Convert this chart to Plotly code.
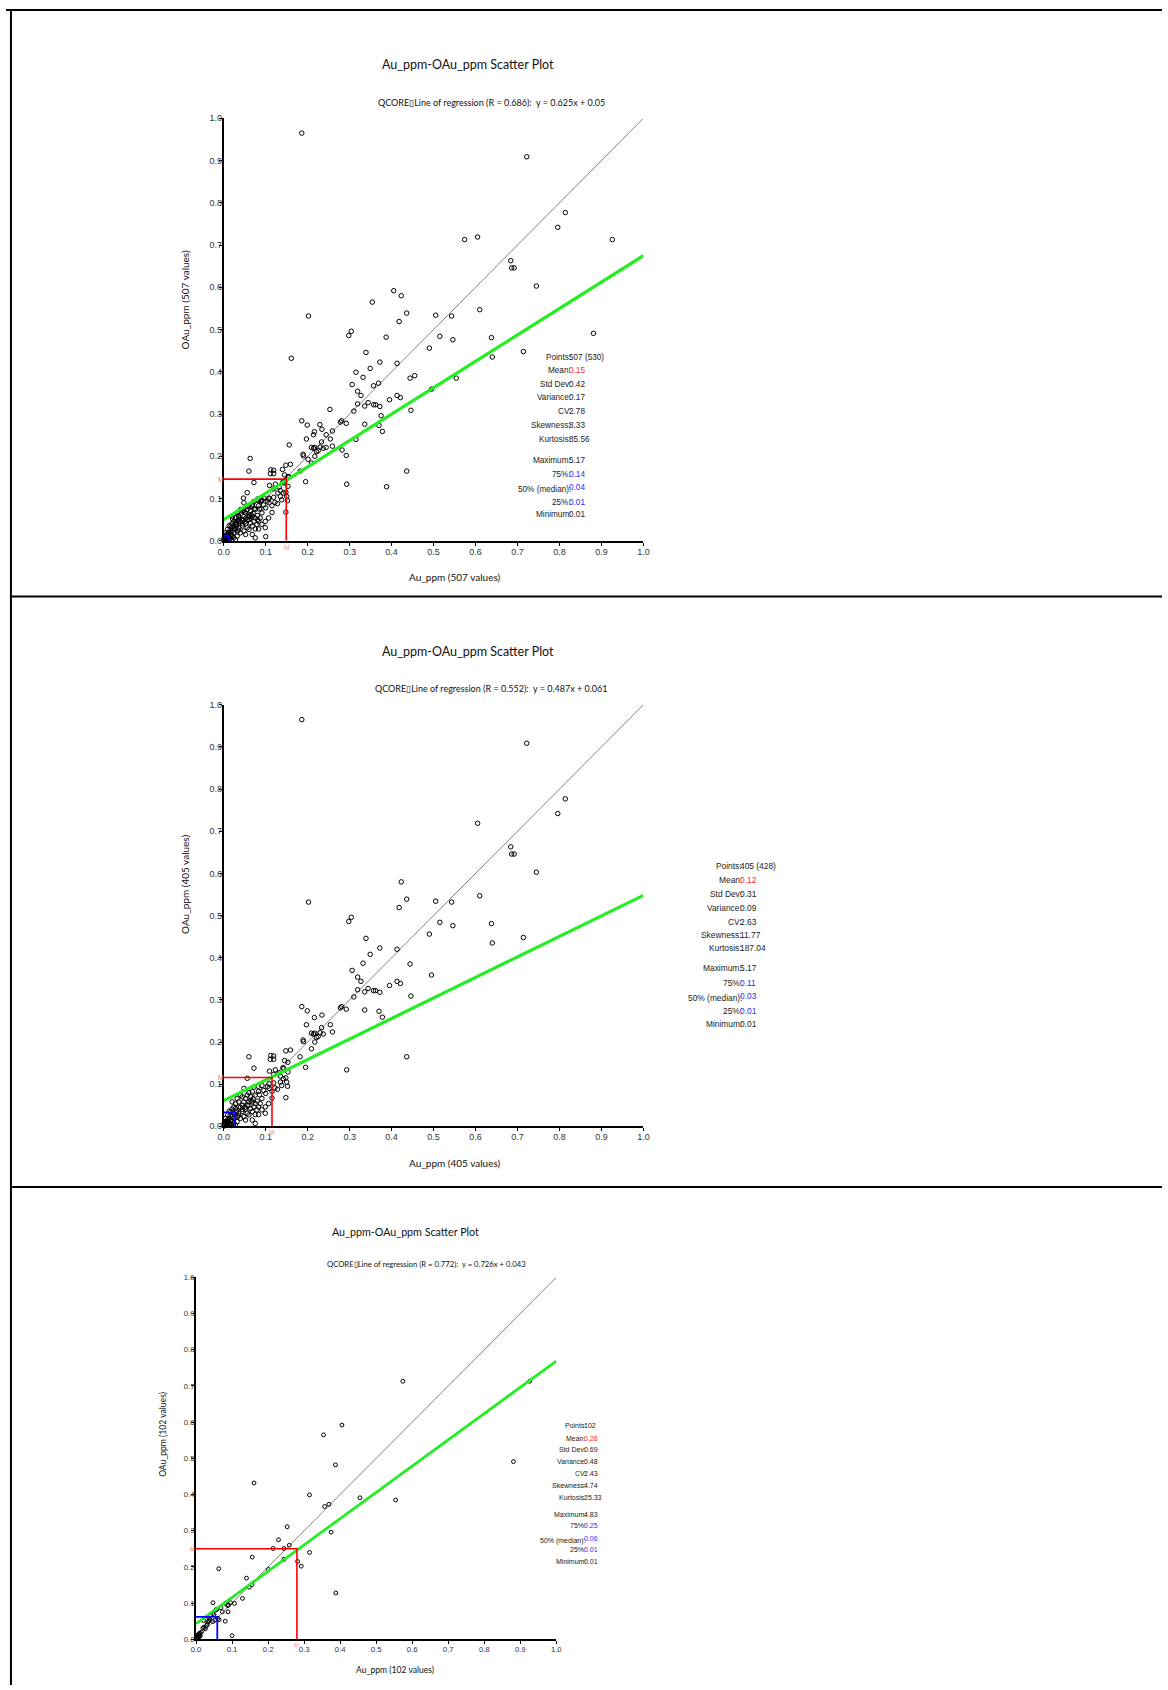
import plotly.graph_objects as go

W, H = 1168, 1690

# ---------------- DATA ----------------
# Subset shown in the middle panel (405 values) -- visible points inside [0,1]
set_b_points = [
    (0.186, 0.965), (0.722, 0.909), (0.814, 0.777), (0.796, 0.742), (0.605, 0.719),
    (0.684, 0.663), (0.686, 0.646), (0.692, 0.646), (0.745, 0.603), (0.423, 0.580),
    (0.436, 0.539), (0.202, 0.532), (0.505, 0.534), (0.543, 0.532), (0.610, 0.547),
    (0.418, 0.519), (0.304, 0.496), (0.298, 0.486), (0.515, 0.484), (0.546, 0.476),
    (0.638, 0.481), (0.490, 0.456), (0.640, 0.435), (0.714, 0.448), (0.339, 0.446),
    (0.372, 0.423), (0.413, 0.420), (0.349, 0.408), (0.444, 0.385), (0.332, 0.387),
    (0.495, 0.359), (0.306, 0.370), (0.319, 0.354), (0.327, 0.344), (0.344, 0.327),
    (0.357, 0.322), (0.395, 0.334), (0.413, 0.344), (0.421, 0.339), (0.446, 0.309),
    (0.370, 0.273), (0.436, 0.165), (0.293, 0.134),
    (0.319, 0.324), (0.336, 0.319), (0.362, 0.322), (0.372, 0.318), (0.310, 0.307),
    (0.278, 0.281), (0.281, 0.284), (0.292, 0.278), (0.336, 0.276), (0.378, 0.259),
    (0.186, 0.284), (0.199, 0.274), (0.234, 0.264), (0.216, 0.258), (0.233, 0.234),
    (0.254, 0.241), (0.197, 0.241), (0.259, 0.224), (0.209, 0.221), (0.214, 0.219),
    (0.217, 0.221), (0.230, 0.222), (0.237, 0.219), (0.225, 0.213), (0.221, 0.211),
    (0.189, 0.205), (0.190, 0.201), (0.217, 0.200), (0.209, 0.184), (0.148, 0.179),
    (0.159, 0.181), (0.182, 0.165), (0.060, 0.165), (0.112, 0.168), (0.119, 0.167),
    (0.111, 0.159), (0.119, 0.159), (0.145, 0.156), (0.153, 0.152), (0.195, 0.140),
    (0.141, 0.139), (0.143, 0.137), (0.072, 0.138), (0.109, 0.131), (0.123, 0.134),
    (0.132, 0.127), (0.153, 0.129), (0.119, 0.123), (0.056, 0.114), (0.135, 0.119),
    (0.142, 0.113), (0.148, 0.115), (0.150, 0.105), (0.135, 0.105), (0.108, 0.090),
    (0.122, 0.091), (0.152, 0.095),
    (0.108, 0.101), (0.119, 0.103), (0.091, 0.097), (0.082, 0.095), (0.072, 0.093),
    (0.048, 0.090), (0.083, 0.083), (0.060, 0.080), (0.115, 0.067), (0.148, 0.068),
    (0.075, 0.074), (0.068, 0.082), (0.060, 0.058), (0.072, 0.046), (0.079, 0.039),
    (0.075, 0.028), (0.083, 0.028), (0.064, 0.042), (0.056, 0.050), (0.052, 0.066),
    (0.044, 0.070), (0.040, 0.074), (0.036, 0.058), (0.028, 0.054), (0.032, 0.066),
    (0.024, 0.046), (0.020, 0.041), (0.017, 0.035), (0.013, 0.036), (0.009, 0.027),
    (0.005, 0.019), (0.003, 0.011), (0.002, 0.003), (0.009, 0.007), (0.017, 0.015),
    (0.024, 0.019), (0.028, 0.027), (0.036, 0.031), (0.044, 0.035), (0.052, 0.041),
    (0.060, 0.027), (0.048, 0.023), (0.040, 0.019), (0.032, 0.011), (0.024, 0.007),
    (0.019, 0.002), (0.013, 0.003), (0.052, 0.015), (0.068, 0.015), (0.075, 0.007),
    (0.091, 0.066), (0.087, 0.054), (0.099, 0.046), (0.107, 0.054),
    (0.020, 0.058), (0.028, 0.042), (0.036, 0.046), (0.044, 0.050), (0.048, 0.058),
    (0.056, 0.074), (0.064, 0.070), (0.068, 0.058), (0.075, 0.054), (0.083, 0.046),
    (0.091, 0.039), (0.099, 0.031), (0.068, 0.035), (0.056, 0.031), (0.032, 0.023),
    (0.020, 0.023), (0.013, 0.019), (0.005, 0.011), (0.009, 0.015), (0.017, 0.007),
    (0.028, 0.003), (0.001, 0.007), (0.002, 0.005), (0.004, 0.002), (0.006, 0.004),
    (0.003, 0.008), (0.008, 0.003), (0.001, 0.001), (0.005, 0.006), (0.007, 0.009),
    (0.010, 0.005), (0.012, 0.010),
    (0.040, 0.045), (0.045, 0.040), (0.030, 0.035), (0.035, 0.025), (0.025, 0.030),
    (0.015, 0.025), (0.020, 0.012), (0.011, 0.013), (0.050, 0.045), (0.060, 0.050),
    (0.065, 0.062), (0.070, 0.065), (0.080, 0.060), (0.085, 0.075), (0.095, 0.085),
    (0.100, 0.078), (0.104, 0.094), (0.115, 0.083), (0.128, 0.088), (0.138, 0.097),
]

# Subset shown in the bottom panel (102 values)
set_c_points = [
    (0.574, 0.713), (0.926, 0.713), (0.354, 0.565), (0.405, 0.592), (0.387, 0.482),
    (0.881, 0.491), (0.161, 0.432), (0.315, 0.399), (0.455, 0.391), (0.554, 0.385),
    (0.357, 0.367), (0.369, 0.373), (0.253, 0.311), (0.375, 0.296), (0.229, 0.275),
    (0.259, 0.260), (0.214, 0.251), (0.244, 0.251), (0.315, 0.240), (0.156, 0.227),
    (0.244, 0.221), (0.282, 0.215), (0.292, 0.202), (0.063, 0.195), (0.201, 0.193),
    (0.140, 0.169), (0.155, 0.151), (0.148, 0.144), (0.388, 0.128), (0.129, 0.113),
    (0.047, 0.101), (0.081, 0.099), (0.090, 0.095), (0.088, 0.093), (0.107, 0.099),
    (0.096, 0.101), (0.069, 0.087), (0.058, 0.083), (0.055, 0.081), (0.073, 0.076),
    (0.089, 0.076), (0.047, 0.071), (0.050, 0.068), (0.021, 0.052), (0.035, 0.060),
    (0.038, 0.055), (0.033, 0.048), (0.036, 0.051), (0.064, 0.054), (0.061, 0.058),
    (0.052, 0.053), (0.047, 0.049), (0.081, 0.050), (0.031, 0.042), (0.029, 0.038),
    (0.022, 0.033), (0.019, 0.031), (0.026, 0.029), (0.015, 0.020), (0.011, 0.017),
    (0.007, 0.014), (0.006, 0.010), (0.009, 0.016), (0.004, 0.008), (0.100, 0.010),
    (0.002, 0.003), (0.003, 0.005), (0.005, 0.004), (0.001, 0.002), (0.008, 0.006),
    (0.010, 0.012), (0.012, 0.009), (0.004, 0.010),
]

# Top panel shows all values (union of both subsets)
set_a_points = set_b_points + set_c_points
panel_points = [set_a_points, set_b_points, set_c_points]

counts = ["507", "405", "102"]
regression = [(0.686, 0.625, 0.05), (0.552, 0.487, 0.061), (0.772, 0.726, 0.043)]
mean_xy = [(0.149, 0.146), (0.115, 0.116), (0.280, 0.250)]
median_xy = [(0.012, 0.012), (0.027, 0.033), (0.059, 0.062)]

tick_vals = [0.0, 0.1, 0.2, 0.3, 0.4, 0.5, 0.6, 0.7, 0.8, 0.9, 1.0]
tick_text = ["0.0", "0.1", "0.2", "0.3", "0.4", "0.5", "0.6", "0.7", "0.8", "0.9", "1.0"]

stat_labels = ["Points:", "Mean:", "Std Dev:", "Variance:", "CV:", "Skewness:", "Kurtosis:",
               "Maximum:", "75%:", "50% (median):", "25%:", "Minimum:"]
stat_values = [
    ["507 (530)", "0.15", "0.42", "0.17", "2.78", "8.33", "85.56", "5.17", "0.14", "0.04", "0.01", "0.01"],
    ["405 (428)", "0.12", "0.31", "0.09", "2.63", "11.77", "187.04", "5.17", "0.11", "0.03", "0.01", "0.01"],
    ["102", "0.28", "0.69", "0.48", "2.43", "4.74", "25.33", "4.83", "0.25", "0.06", "0.01", "0.01"],
]
value_colors = ["#222", "#ff2a2a", "#222", "#222", "#222", "#222", "#222",
                "#222", "#2a2aff", "#2a2aff", "#2a2aff", "#222"]

# ---------------- LAYOUT (pixel geometry) ----------------
panels = [
    dict(x0=220, x1=644, y0=114, y1=539, s=1.0, title=(467, 60), sub=(491, 98),
         xt=(454, 575), yt=(181, 297), sx=568,
         rows=[355, 368, 382, 395, 409, 423, 437, 458, 472, 487, 500, 513], sf=8.2),
    dict(x0=220, x1=644, y0=704, y1=1128, s=1.0, title=(467, 650), sub=(491, 688),
         xt=(454, 1165), yt=(181, 885), sx=741,
         rows=[866, 880, 894, 908, 922, 936, 949, 969, 984, 999, 1012, 1025], sf=8.4),
    dict(x0=192, x1=556, y0=1280, y1=1644, s=0.857, title=(404, 1234), sub=(425, 1266),
         xt=(393, 1675), yt=(159, 1438), sx=583,
         rows=[1429, 1442, 1453, 1465, 1477, 1489, 1501, 1518, 1530, 1545, 1554, 1566], sf=7.0),
]

TITLE_FONT = "Lato, 'Open Sans', sans-serif"
ARIAL = "'Liberation Sans', Arial, sans-serif"


def fx(px):
    return px / W


def fy(py):
    return 1 - py / H


fig = go.Figure()
annotations = []
shapes = []

for i, P in enumerate(panels):
    sfx = "" if i == 0 else str(i + 1)
    xa, ya = "x" + sfx, "y" + sfx
    s = P["s"]
    r, slope, icpt = regression[i]
    pts = panel_points[i]

    # 1:1 line
    fig.add_trace(go.Scatter(x=[0, 1], y=[0, 1], mode="lines",
                             line=dict(color="#808080", width=1),
                             xaxis=xa, yaxis=ya, hoverinfo="skip", showlegend=False))
    # points
    fig.add_trace(go.Scatter(x=[p[0] for p in pts], y=[p[1] for p in pts], mode="markers",
                             marker=dict(symbol="circle-open", size=4.5 * s,
                                         color="black", line=dict(width=1, color="black")),
                             cliponaxis=False, xaxis=xa, yaxis=ya, showlegend=False))
    # regression line
    fig.add_trace(go.Scatter(x=[0, 1], y=[icpt, slope + icpt], mode="lines",
                             line=dict(color="#22ee22", width=3.2 * s),
                             xaxis=xa, yaxis=ya, hoverinfo="skip", showlegend=False))
    # mean lines
    mx, my = mean_xy[i]
    fig.add_trace(go.Scatter(x=[0, mx, mx], y=[my, my, 0], mode="lines",
                             line=dict(color="#ff0000", width=1.6),
                             xaxis=xa, yaxis=ya, hoverinfo="skip", showlegend=False))
    # median lines
    dx, dy = median_xy[i]
    fig.add_trace(go.Scatter(x=[0, dx, dx], y=[dy, dy, 0], mode="lines",
                             line=dict(color="#0000ff", width=1.8),
                             cliponaxis=False,
                             xaxis=xa, yaxis=ya, hoverinfo="skip", showlegend=False))

    axis_common = dict(range=[0, 1], showline=True, linewidth=2, linecolor="black",
                       ticks="outside", ticklen=3, tickwidth=1, tickcolor="black",
                       showgrid=False, zeroline=False, tickvals=tick_vals, ticktext=tick_text,
                       tickfont=dict(family=ARIAL, size=9 * s, color="#333"))
    fig.update_layout({
        "xaxis" + sfx: dict(domain=[fx(P["x0"]), fx(P["x1"])], anchor=ya,
                            ticklabelstandoff=-2, **axis_common),
        "yaxis" + sfx: dict(domain=[fy(P["y1"]), fy(P["y0"])], anchor=xa,
                            ticklabelstandoff=-5, **axis_common),
    })

    # "M" markers
    annotations.append(dict(x=0, y=my, xref=xa, yref=ya, text="M", showarrow=False,
                            xanchor="right", yanchor="middle", xshift=1,
                            font=dict(family=ARIAL, size=6.5 * s, color="#ff6a6a")))
    annotations.append(dict(x=mx, y=0, xref=xa, yref=ya, text="M", showarrow=False,
                            xanchor="center", yanchor="top", yshift=-1,
                            font=dict(family=ARIAL, size=6.5 * s, color="#ff8a8a")))

    # titles
    annotations.append(dict(x=fx(P["title"][0]), y=fy(P["title"][1]), xref="paper", yref="paper",
                            text="Au_ppm-OAu_ppm Scatter Plot", showarrow=False,
                            xanchor="center", yanchor="middle",
                            font=dict(family=TITLE_FONT, size=12.5 * s, color="#111")))
    annotations.append(dict(x=fx(P["sub"][0]), y=fy(P["sub"][1]), xref="paper", yref="paper",
                            text=f"QCORE\u25afLine of regression (R = {r:.3f}):  y = {slope:g}x + {icpt:g}",
                            showarrow=False, xanchor="center", yanchor="middle",
                            font=dict(family=TITLE_FONT, size=9 * s, color="#111")))
    annotations.append(dict(x=fx(P["xt"][0]), y=fy(P["xt"][1]), xref="paper", yref="paper",
                            text=f"Au_ppm ({counts[i]} values)", showarrow=False,
                            xanchor="center", yanchor="middle",
                            font=dict(family=TITLE_FONT, size=10 * s, color="#111")))
    annotations.append(dict(x=fx(P["yt"][0]), y=fy(P["yt"][1]), xref="paper", yref="paper",
                            text=f"OAu_ppm ({counts[i]} values)", showarrow=False, textangle=-90,
                            xanchor="center", yanchor="middle",
                            font=dict(family=TITLE_FONT, size=10 * s, color="#111")))

    # statistics block
    for k, lab in enumerate(stat_labels):
        yrow = P["rows"][k]
        annotations.append(dict(x=fx(P["sx"] + 4), y=fy(yrow), xref="paper", yref="paper",
                                text=lab, showarrow=False, xanchor="right", yanchor="middle",
                                borderpad=0,
                                font=dict(family=ARIAL, size=P["sf"], color="#222")))
        yv = yrow - 2 if k == 9 else yrow
        annotations.append(dict(x=fx(P["sx"]), y=fy(yv), xref="paper", yref="paper",
                                text=stat_values[i][k], showarrow=False, xanchor="left",
                                yanchor="middle", borderpad=0,
                                font=dict(family=ARIAL, size=P["sf"], color=value_colors[k])))

# page borders and separators
line_style = dict(color="black", width=2)
shapes.append(dict(type="line", xref="paper", yref="paper", x0=0, x1=1, y0=fy(5), y1=fy(5), line=line_style))
shapes.append(dict(type="line", xref="paper", yref="paper", x0=fx(5), x1=fx(5), y0=fy(5), y1=0, line=line_style))
for ysep in (595, 1189):
    shapes.append(dict(type="line", xref="paper", yref="paper", x0=fx(5), x1=1, y0=fy(ysep), y1=fy(ysep),
                       line=line_style))

fig.update_layout(width=W, height=H, autosize=False,
                  margin=dict(l=0, r=0, t=0, b=0),
                  paper_bgcolor="white", plot_bgcolor="white",
                  showlegend=False, annotations=annotations, shapes=shapes)

fig.write_html("out.html")
